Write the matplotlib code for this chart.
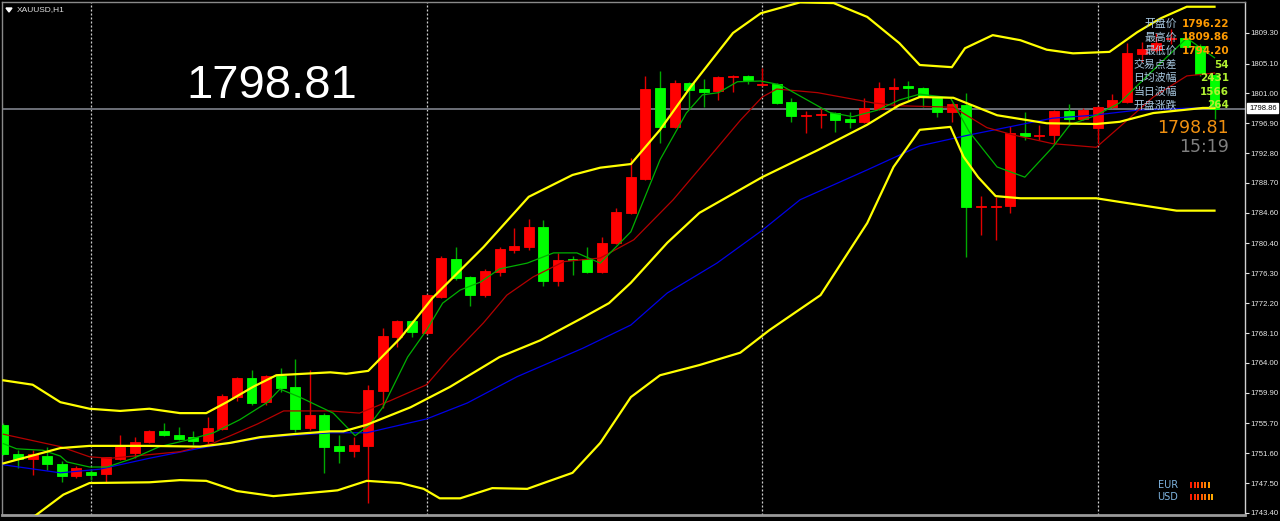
import matplotlib
matplotlib.use("Agg")
import matplotlib.pyplot as plt
from matplotlib.patches import Rectangle, Polygon
import numpy as np

# ---------------- data (XAUUSD H1) ----------------
opens = [1755.5, 1751.5, 1750.8, 1751.2, 1750.1, 1748.5, 1749.0, 1748.8, 1750.8, 1751.6,
         1753.2, 1754.7, 1754.1, 1753.8, 1753.3, 1754.9, 1759.3, 1761.9, 1758.6, 1762.2,
         1760.7, 1755.1, 1756.8, 1752.6, 1751.9, 1752.6, 1760.1, 1767.6, 1769.8, 1768.1,
         1773.0, 1778.3, 1775.8, 1773.3, 1776.5, 1779.5, 1779.9, 1782.6, 1775.2, 1778.3,
         1778.3, 1776.5, 1780.5, 1784.6, 1789.2, 1801.7, 1796.4, 1802.4, 1801.6, 1801.3,
         1803.3, 1803.4, 1802.1, 1802.3, 1799.8, 1797.9, 1798.0, 1798.3, 1797.5, 1797.1,
         1798.9, 1801.6, 1802.0, 1801.7, 1800.4, 1798.4, 1799.4, 1785.4, 1785.4, 1785.5,
         1795.6, 1795.2, 1795.3, 1798.6, 1797.5, 1796.2, 1799.1, 1799.8, 1806.4, 1807.0,
         1808.5, 1808.6, 1807.5, 1803.5]
highs = [1755.8, 1752.0, 1752.0, 1752.5, 1750.5, 1749.8, 1749.4, 1751.1, 1754.1, 1753.8,
         1754.8, 1755.8, 1755.2, 1754.7, 1756.6, 1759.7, 1762.1, 1763.0, 1762.3, 1763.3,
         1764.5, 1763.0, 1757.1, 1754.1, 1753.8, 1761.0, 1768.8, 1769.9, 1769.9, 1773.5,
         1778.7, 1779.9, 1775.9, 1776.9, 1779.9, 1782.5, 1783.8, 1783.6, 1779.1, 1778.7,
         1779.9, 1781.3, 1785.3, 1792.1, 1803.4, 1804.1, 1802.8, 1802.6, 1803.0, 1803.4,
         1803.5, 1803.5, 1804.5, 1802.4, 1800.4, 1798.6, 1799.0, 1798.4, 1798.4, 1800.4,
         1802.6, 1803.1, 1802.7, 1801.9, 1800.5, 1799.7, 1801.1, 1786.9, 1786.8, 1796.5,
         1798.4, 1796.7, 1798.7, 1799.5, 1799.0, 1799.3, 1800.9, 1807.9, 1808.1, 1809.3,
         1809.86, 1809.3, 1807.8, 1803.6]
lows = [1751.4, 1749.6, 1748.6, 1749.3, 1747.7, 1748.2, 1747.9, 1747.7, 1750.7, 1750.9,
        1753.0, 1754.0, 1753.4, 1752.7, 1752.7, 1754.8, 1758.8, 1758.2, 1758.2, 1760.0,
        1754.5, 1754.8, 1748.9, 1750.2, 1751.1, 1744.8, 1757.8, 1766.2, 1767.6, 1767.9,
        1772.9, 1775.4, 1771.8, 1773.0, 1775.9, 1779.1, 1779.5, 1774.6, 1774.6, 1776.1,
        1776.3, 1776.3, 1780.3, 1784.4, 1789.1, 1794.2, 1796.2, 1798.9, 1799.1, 1800.1,
        1801.2, 1802.3, 1802.0, 1799.5, 1797.1, 1795.6, 1796.2, 1795.7, 1796.2, 1796.9,
        1798.7, 1799.1, 1800.1, 1799.1, 1797.8, 1797.1, 1778.5, 1781.6, 1780.9, 1784.6,
        1794.6, 1794.6, 1794.2, 1796.9, 1797.3, 1794.2, 1799.0, 1799.7, 1805.3, 1806.7,
        1807.8, 1807.2, 1803.4, 1797.5]
closes = [1751.5, 1750.8, 1751.5, 1750.1, 1748.5, 1749.6, 1748.6, 1751.1, 1752.5, 1753.2,
          1754.7, 1754.1, 1753.6, 1753.3, 1755.1, 1759.5, 1761.9, 1758.5, 1762.2, 1760.5,
          1754.9, 1756.8, 1752.5, 1751.9, 1752.7, 1760.3, 1767.7, 1769.8, 1768.2, 1773.3,
          1778.4, 1775.7, 1773.3, 1776.6, 1779.6, 1780.1, 1782.6, 1775.2, 1778.1, 1778.1,
          1776.5, 1780.5, 1784.7, 1789.5, 1801.6, 1796.4, 1802.4, 1801.5, 1801.2, 1803.3,
          1803.4, 1802.8, 1802.3, 1799.7, 1797.9, 1798.1, 1798.2, 1797.3, 1797.1, 1799.0,
          1801.7, 1801.9, 1801.7, 1800.5, 1798.4, 1799.5, 1785.4, 1785.5, 1785.5, 1795.6,
          1795.2, 1795.3, 1798.6, 1797.5, 1798.7, 1799.1, 1800.1, 1806.5, 1807.1, 1807.9,
          1808.6, 1807.4, 1803.7, 1798.81]

# indicator lines (bar position, price)
upper_x = [0, 2.0, 3.9, 5.9, 8.0, 10.0, 12.1, 13.9, 15.3, 17.1, 18.7, 22.4, 23.5, 25.0,
           27.2, 29.4, 32.9, 36.0, 39.0, 40.9, 43.0, 45.0, 47.1, 48.9, 50.0, 51.9, 54.6,
           56.9, 59.2, 61.4, 62.8, 65.0, 65.9, 67.8, 69.7, 71.5, 73.3, 75.8, 77.7, 79.3,
           81.1, 83.0]
upper_y = [1761.6, 1761.0, 1758.6, 1757.7, 1757.4, 1757.7, 1757.1, 1757.1, 1758.6, 1760.7,
           1762.3, 1762.7, 1762.5, 1762.9, 1767.4, 1772.9, 1779.9, 1786.8, 1789.8, 1790.8,
           1791.3, 1796.0, 1801.9, 1806.5, 1809.3, 1812.0, 1813.5, 1813.4, 1811.5, 1807.9,
           1804.9, 1804.6, 1807.2, 1809.0, 1808.3, 1807.0, 1806.5, 1806.7, 1809.4, 1811.3,
           1812.9, 1812.9]
middle_x = [0, 3.9, 5.9, 10.0, 13.5, 15.5, 17.6, 19.8, 22.4, 23.3, 24.9, 27.9, 30.6, 34.0,
            36.8, 39.7, 41.5, 43.0, 45.5, 47.7, 52.0, 55.8, 59.2, 61.4, 62.8, 65.1, 68.1,
            71.5, 74.9, 76.5, 78.8, 82.2, 83.0]
middle_y = [1750.2, 1752.3, 1752.6, 1752.6, 1752.5, 1753.0, 1753.8, 1754.2, 1754.6, 1754.6,
            1755.5, 1757.9, 1760.7, 1764.8, 1767.1, 1770.2, 1772.2, 1775.0, 1780.5, 1784.6,
            1789.5, 1793.2, 1796.7, 1799.4, 1800.5, 1800.4, 1798.0, 1796.9, 1796.8, 1797.1,
            1798.3, 1799.0, 1799.0]
lower_x = [0, 1.9, 4.1, 5.9, 10.0, 12.1, 13.9, 16.0, 18.5, 22.4, 22.9, 24.9, 27.2, 28.8,
           29.9, 31.3, 33.5, 35.9, 37.3, 39.0, 40.9, 43.0, 45.0, 47.7, 50.5, 52.5, 56.0,
           59.2, 61.0, 62.8, 64.9, 65.8, 66.8, 68.0, 69.7, 74.9, 76.5, 80.4, 83.0]
lower_y = [1739.3, 1742.6, 1745.9, 1747.5, 1747.6, 1747.9, 1747.8, 1746.4, 1745.7, 1746.4,
           1746.5, 1747.8, 1747.5, 1746.7, 1745.4, 1745.4, 1746.8, 1746.7, 1747.7, 1748.9,
           1753.0, 1759.3, 1762.3, 1763.7, 1765.4, 1768.5, 1773.3, 1783.2, 1790.9, 1796.0,
           1796.4, 1792.3, 1789.5, 1786.9, 1786.6, 1786.6, 1786.1, 1784.9, 1784.9]
blue_x = [0, 3.9, 6.6, 10.0, 13.5, 18.1, 22.4, 24.9, 29.0, 31.8, 35.2, 39.7, 43.0, 45.5,
          48.9, 52.0, 54.6, 59.2, 62.8, 66.2, 71.9, 74.7, 77.7, 83.0]
blue_y = [1750.0, 1748.9, 1749.4, 1750.9, 1752.3, 1753.8, 1754.4, 1754.4, 1756.3, 1758.5,
          1762.1, 1766.0, 1769.2, 1773.6, 1777.7, 1782.2, 1786.4, 1790.5, 1793.8, 1795.3,
          1797.6, 1798.0, 1798.7, 1799.1]
red_x = [0, 3.9, 5.9, 7.3, 10.0, 12.1, 14.4, 17.4, 19.2, 22.4, 24.4, 26.5, 29.0, 30.6,
         32.9, 34.5, 36.3, 38.4, 40.9, 43.2, 45.9, 48.4, 50.5, 52.0, 53.0, 55.8, 59.6,
         61.4, 65.1, 67.4, 69.2, 71.9, 74.9, 76.5, 78.8, 81.1, 83.0]
red_y = [1754.2, 1752.5, 1751.1, 1750.9, 1751.4, 1751.8, 1753.0, 1755.6, 1757.4, 1757.4,
         1757.1, 1758.8, 1761.0, 1764.7, 1769.5, 1773.3, 1775.8, 1777.9, 1778.4, 1780.9,
         1786.4, 1792.3, 1797.3, 1800.5, 1801.6, 1801.1, 1799.7, 1799.3, 1799.1, 1796.3,
         1795.3, 1794.1, 1793.6, 1796.4, 1800.5, 1803.4, 1803.8]
green_x = [0, 0.9, 2.7, 3.9, 4.35, 5.9, 7.1, 8.9, 10.7, 12.6, 14.4, 16.2, 18.1, 18.95,
           20.3, 22.6, 24.1, 25.1, 26.0, 27.7, 29.0, 30.1, 31.3, 32.7, 34.0, 35.9, 37.7,
           39.3, 40.9, 43.0, 45.0, 46.8, 47.9, 49.0, 50.3, 51.9, 53.2, 56.6, 58.2, 59.9,
           61.4, 62.8, 64.9, 66.2, 68.1, 70.0, 71.9, 73.1, 74.9, 76.5, 78.8, 81.1, 83.0]
green_y = [1752.9, 1752.2, 1752.0, 1751.2, 1750.4, 1749.7, 1749.7, 1750.9, 1752.5, 1753.4,
           1754.4, 1756.2, 1758.6, 1760.4, 1759.3, 1757.1, 1754.0, 1755.5, 1757.9, 1764.8,
           1768.5, 1772.2, 1774.0, 1775.1, 1776.9, 1777.7, 1779.1, 1779.1, 1777.7, 1782.0,
           1791.9, 1798.3, 1800.8, 1801.1, 1802.6, 1802.7, 1802.2, 1798.4, 1797.8, 1798.7,
           1800.1, 1800.9, 1800.4, 1795.7, 1790.9, 1789.5, 1793.6, 1796.7, 1798.0, 1799.7,
           1804.2, 1808.6, 1805.9]

day_starts = [6, 29, 52, 75]
bid_price = 1798.86
last_price = "1798.81"
clock = "15:19"
ytick_vals = [1743.40, 1747.50, 1751.60, 1755.70, 1759.90, 1764.00, 1768.10, 1772.20,
              1776.30, 1780.40, 1784.60, 1788.70, 1792.80, 1796.90, 1801.00, 1805.10, 1809.30]
info_labels = ["开盘价", "最高价", "最低价", "交易点差", "日均波幅", "当日波幅", "开盘涨跌"]
info_values = ["1796.22", "1809.86", "1794.20", "54", "2431", "1566", "264"]
eur_bars = ["#FF1800", "#FF2A00", "#FF4000", "#FF6000", "#FF8000", "#FF9A00"]
usd_bars = ["#FF1800", "#FF2A00", "#FF4000", "#FF5A00", "#FF7400", "#FF8C00", "#FFA800"]

# ---------------- figure ----------------
W, H = 1280, 521
fig = plt.figure(figsize=(W / 100, H / 100), dpi=100, facecolor="black")


def fx(px):
    return px / W


def fy(py):
    return 1 - py / H


ax = fig.add_axes([fx(2), fy(515), fx(1245) - fx(2), fy(2) - fy(515)])
ax.set_facecolor("black")
ax.set_xlim(-0.10, 85.09)
ax.set_ylim(1743.11, 1813.55)

# separators and price line
for d in day_starts:
    ax.axvline(d, color="#D0D0D0", lw=0.9, ls=(0, (1.6, 1.6)), zorder=1)
ax.axhline(bid_price, color="#6C7078", lw=1.4, zorder=1)

# candles
for i in range(len(opens)):
    o, h, l, c = opens[i], highs[i], lows[i], closes[i]
    up = c >= o
    body = "#FF0000" if up else "#00FF00"
    wick = "#E00000" if up else "#00A800"
    ax.vlines(i, l, h, color=wick, lw=1.0, zorder=2)
    ax.bar(i, max(abs(c - o), 0.02), bottom=min(o, c), width=0.68,
           color=body, edgecolor=body, lw=0.6, zorder=3)

# indicators
ax.plot(blue_x, blue_y, color="#0000E8", lw=0.9, zorder=4)
ax.plot(red_x, red_y, color="#B40000", lw=0.9, zorder=4)
ax.plot(green_x, green_y, color="#00B000", lw=0.9, zorder=4)
for xs, ys in [(upper_x, upper_y), (middle_x, middle_y), (lower_x, lower_y)]:
    ax.plot(xs, ys, color="#FFFF00", lw=1.6, zorder=5, solid_joinstyle="round")

# axes styling
ax.set_xticks([])
ax.yaxis.tick_right()
ax.set_yticks(ytick_vals)
ax.set_yticklabels([f"{v:.2f}" for v in ytick_vals], fontfamily="Liberation Sans")
ax.tick_params(axis="y", colors="#E6E6E6", labelsize=5.6, length=3, width=0.8, pad=1.0)
for s in ["left", "top"]:
    ax.spines[s].set_color("#8A8A8A")
    ax.spines[s].set_linewidth(1.0)
ax.spines["right"].set_color("#D0D0D0")
ax.spines["right"].set_linewidth(1.0)
ax.spines["bottom"].set_color("#9A9A9A")
ax.spines["bottom"].set_linewidth(2.0)

# current bid box on the price axis
fig.text(fx(1249), fy(108), f"{bid_price:.2f}", fontsize=5.5, color="black",
         family="Liberation Sans", va="center", ha="left",
         bbox=dict(boxstyle="square,pad=0.2", fc="white", ec="white"))

# title
fig.text(fx(17), fy(10), "XAUUSD,H1", fontsize=6, color="#E0E0E0",
         family="Liberation Sans", va="center", ha="left")
fig.add_artist(Polygon([[fx(6), fy(8)], [fx(12), fy(8)], [fx(9), fy(12)]],
                       closed=True, fc="white", ec="white", transform=fig.transFigure))

# big price
fig.text(fx(272), fy(86), last_price, fontsize=34, color="white",
         family="Liberation Sans", va="center", ha="center")

# info panel
rows = [24, 37.5, 51, 64.5, 78, 92, 105.5]
for k, (lab, val) in enumerate(zip(info_labels, info_values)):
    fig.text(fx(1177), fy(rows[k]), lab, fontsize=7.8, color="#A8C8E0",
             family=["Noto Sans CJK SC", "DejaVu Sans"], va="center", ha="right", zorder=10)
    vcol = "#FF9A00" if k < 3 else "#B0F030"
    fig.text(fx(1229), fy(rows[k]), val, fontsize=7.5, color=vcol, weight="bold",
             family="DejaVu Sans", va="center", ha="right", zorder=10)
fig.text(fx(1229), fy(128), last_price, fontsize=12.5, color="#F09010",
         family="DejaVu Sans", va="center", ha="right", zorder=10)
fig.text(fx(1229), fy(147), clock, fontsize=12.5, color="#808080",
         family="DejaVu Sans", va="center", ha="right", zorder=10)

# currency strength legend
for name, cols, yy in [("EUR", eur_bars, 485), ("USD", usd_bars, 497)]:
    fig.text(fx(1178), fy(yy), name, fontsize=7, color="#7FB4E0",
             family="DejaVu Sans", va="center", ha="right")
    for j, col in enumerate(cols):
        fig.add_artist(Rectangle((fx(1190 + 3.5 * j), fy(yy + 3)), 2 / W, 6 / H,
                                 fc=col, ec="none", transform=fig.transFigure))

fig.savefig("out.png", dpi=100, facecolor="black")
